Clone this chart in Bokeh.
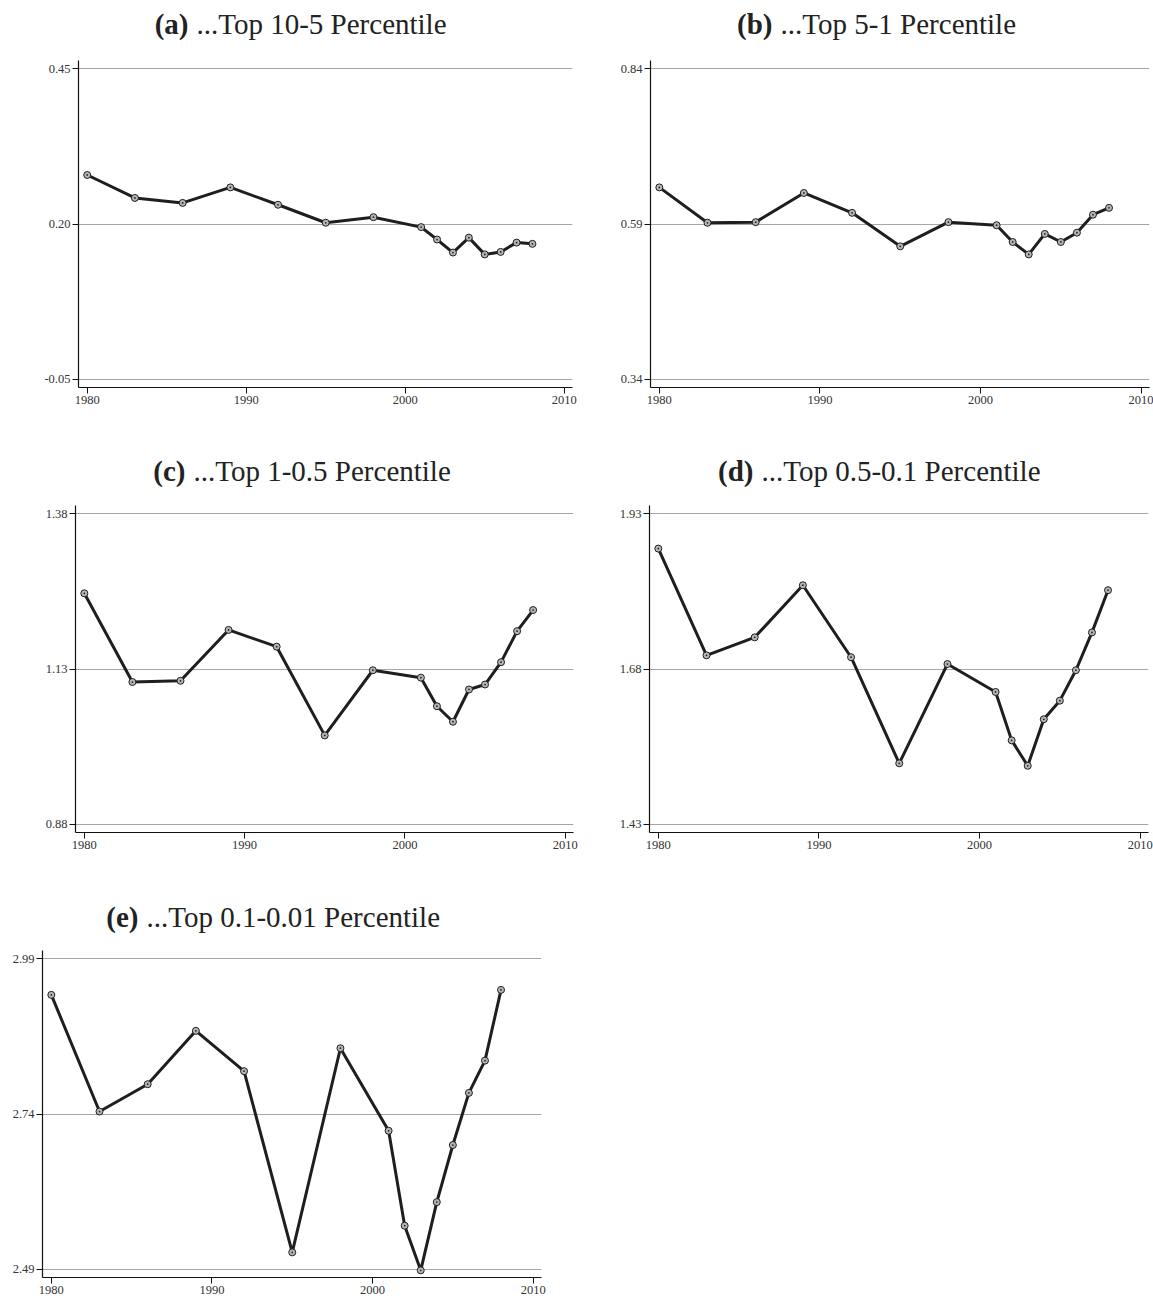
from bokeh.plotting import figure
from bokeh.models import Range1d, FixedTicker, PrintfTickFormatter
from bokeh.core.properties import value
from bokeh.layouts import column, row
from bokeh.embed import file_html
from bokeh.resources import INLINE

years = [1980, 1983, 1986, 1989, 1992, 1995, 1998, 2001, 2002, 2003, 2004, 2005, 2006, 2007, 2008]

top_10_5 = [0.279, 0.242, 0.234, 0.259, 0.231, 0.202, 0.211, 0.195, 0.175, 0.154, 0.178, 0.151, 0.155, 0.170, 0.168]
top_5_1 = [0.649, 0.592, 0.593, 0.640, 0.608, 0.554, 0.593, 0.588, 0.561, 0.541, 0.574, 0.561, 0.576, 0.605, 0.616]
top_1_05 = [1.252, 1.109, 1.111, 1.193, 1.166, 1.023, 1.128, 1.116, 1.070, 1.045, 1.097, 1.105, 1.141, 1.191, 1.225]
top_05_01 = [1.874, 1.702, 1.731, 1.815, 1.699, 1.528, 1.688, 1.643, 1.565, 1.524, 1.599, 1.629, 1.678, 1.739, 1.807]
top_01_001 = [2.932, 2.744, 2.788, 2.874, 2.809, 2.517, 2.846, 2.713, 2.560, 2.488, 2.598, 2.690, 2.774, 2.826, 2.940]

yticks_a = [-0.05, 0.20, 0.45]
yticks_b = [0.34, 0.59, 0.84]
yticks_c = [0.88, 1.13, 1.38]
yticks_d = [1.43, 1.68, 1.93]
yticks_e = [2.49, 2.74, 2.99]
xticks = [1980, 1990, 2000, 2010]

letters = ["(a)", "(b)", "(c)", "(d)", "(e)"]
titles = ["...Top 10-5 Percentile", "...Top 5-1 Percentile", "...Top 1-0.5 Percentile",
          "...Top 0.5-0.1 Percentile", "...Top 0.1-0.01 Percentile"]

FONT = "Liberation Serif"
TITLE_H = 60
BASELINE_FIX = 11


def make_title(width, left, right, letter, title, split, baseline):
    # the title figure's frame is aligned with the frame of the plot below it,
    # so map data x directly onto pixel offsets from the figure's left edge
    t = figure(width=width, height=TITLE_H,
               x_range=Range1d(left, width - right), y_range=Range1d(0, TITLE_H),
               x_axis_location=None, y_axis_location=None,
               min_border_left=left, min_border_right=right,
               min_border_top=0, min_border_bottom=0,
               output_backend="svg", toolbar_location=None)
    t.grid.grid_line_color = None
    t.outline_line_color = None
    t.background_fill_color = "white"
    t.border_fill_color = "white"
    y = TITLE_H - baseline + BASELINE_FIX
    t.text(x=[split], y=[y], text=[letter], text_font=value(FONT),
           text_font_style="bold", text_font_size="29px", text_align="right",
           text_baseline="alphabetic", text_color="#222222")
    t.text(x=[split + 8], y=[y], text=[title], text_font=value(FONT),
           text_font_style="normal", text_font_size="29px", text_align="left",
           text_baseline="alphabetic", text_color="#222222")
    return t


def make_panel(vals, yt, width, height, left, right, bottom):
    p = figure(width=width, height=height,
               min_border_left=left, min_border_right=right,
               min_border_top=0, min_border_bottom=bottom,
               x_range=Range1d(1979.45, 2010.52),
               y_range=Range1d(yt[0] - 0.0135, yt[-1] + 0.0135),
               output_backend="svg", toolbar_location=None)
    p.outline_line_color = None
    p.background_fill_color = "white"
    p.border_fill_color = "white"
    p.xgrid.grid_line_color = None
    p.ygrid.ticker = FixedTicker(ticks=yt)
    p.ygrid.grid_line_color = "#a6a6a6"
    p.ygrid.grid_line_width = 1
    p.yaxis.ticker = FixedTicker(ticks=yt)
    p.xaxis.ticker = FixedTicker(ticks=xticks)
    p.yaxis.formatter = PrintfTickFormatter(format="%.2f")
    for ax in (p.xaxis, p.yaxis):
        ax.axis_line_color = "#111111"
        ax.axis_line_width = 1.2
        ax.major_tick_line_color = "#111111"
        ax.major_tick_in = 0
        ax.major_tick_out = 6
        ax.minor_tick_line_color = None
        ax.major_label_standoff = 2
        ax.major_label_text_font = FONT
        ax.major_label_text_font_size = "12.5px"
        ax.major_label_text_color = "#333333"
    p.line(years, vals, line_width=3, line_color="#1e1e1e")
    p.scatter(years, vals, marker="circle_dot", size=7, line_color="#1e1e1e",
              fill_color="#b5b5b5", line_width=1.0)
    return p


ta = make_title(578, 78, 6, letters[0], titles[0], 188, 34.5)
tb = make_title(575, 72, 4, letters[1], titles[1], 772 - 578, 34.5)
tc = make_title(578, 75, 5, letters[2], titles[2], 185, 36.5)
td = make_title(575, 71, 5, letters[3], titles[3], 753 - 578, 36.5)
te = make_title(578, 42, 37, letters[4], titles[4], 138, 37.0)

pa = make_panel(top_10_5, yticks_a, 578, 385, 78, 6, 58)
pb = make_panel(top_5_1, yticks_b, 575, 385, 72, 4, 58)
pc = make_panel(top_1_05, yticks_c, 578, 385, 75, 5, 58)
pd = make_panel(top_05_01, yticks_d, 575, 385, 71, 5, 58)
pe = make_panel(top_01_001, yticks_e, 578, 350, 42, 37, 23)

layout = column(row(column(ta, pa), column(tb, pb)),
                row(column(tc, pc), column(td, pd)),
                row(column(te, pe)))

open("out.html", "w").write(file_html(layout, INLINE))
